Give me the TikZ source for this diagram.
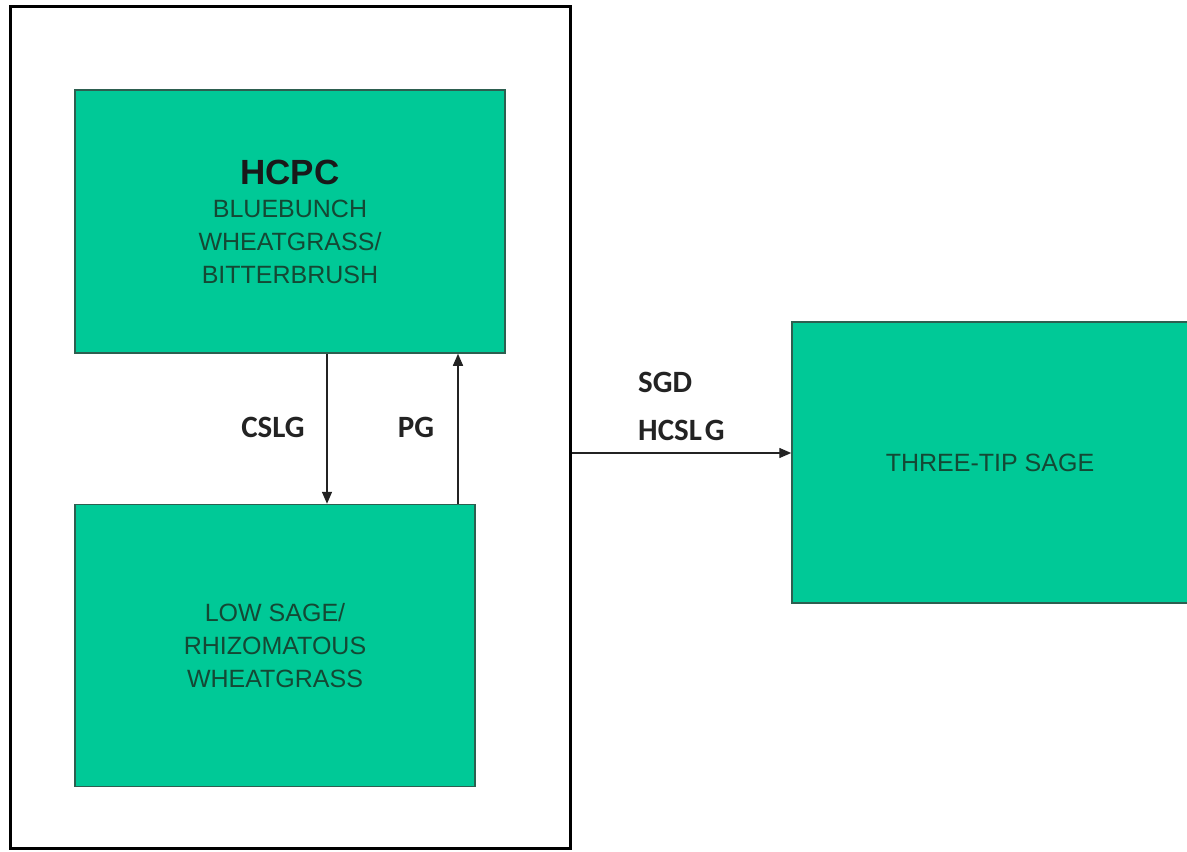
\documentclass[tikz,border=0pt]{standalone}
\usepackage{fontspec}
\setmainfont{Liberation Sans}
\newfontfamily\labelfont{Carlito}
\usepackage{tikz}
\usetikzlibrary{arrows.meta, positioning}
\definecolor{mygreen}{RGB}{0,201,151}
\definecolor{myedge}{RGB}{45,95,80}
\definecolor{mytext}{RGB}{20,72,52}
\definecolor{mydark}{RGB}{35,35,35}
\tikzset{
  statebox/.style={rectangle, draw=myedge, fill=mygreen, line width=1.5pt,
    align=center, text=mytext, font=\fontsize{25}{33}\selectfont, inner sep=0pt},
  outerbox/.style={rectangle, draw=black, line width=3pt, inner sep=0pt},
  arrow/.style={-{Triangle[length=12pt,width=10pt]}, line width=1.4pt, color=mydark},
  lbl/.style={font=\labelfont\bfseries\fontsize{31}{31}\selectfont, text=mydark, inner sep=0pt}
}

\begin{document}
\begin{tikzpicture}[x=1pt, y=-1pt]
  \fill[white] (0,0) rectangle (1187,852);
  \useasboundingbox (0,0) rectangle (1187,852);
  % Community
  \node[outerbox, minimum width=560pt, minimum height=842pt] (comm) at (290,427) {};
  % States
  \node[statebox, minimum width=430pt, minimum height=263pt] (hcpc) at (290,221.5)
    {{\color{black!90}\bfseries\fontsize{35}{35}\selectfont HCPC}\\BLUEBUNCH\\WHEATGRASS/\\BITTERBRUSH};
  \node[statebox, minimum width=400pt, minimum height=282pt,
    below right=150pt and 0pt of hcpc.south west] (lowsage) {LOW SAGE/\\RHIZOMATOUS\\WHEATGRASS};
  \node[statebox, minimum width=430pt, minimum height=281pt] (tts) at (1007,462.5)
    {THREE-TIP SAGE\hspace*{34pt}};
  % Transitions
  \coordinate (cdown) at ([xshift=37pt]hcpc.south);
  \coordinate (cup) at ([xshift=183pt]lowsage.north);
  \coordinate (cright) at ([yshift=9.5pt]tts.west);
  \draw[arrow] (cdown) -- (cdown |- lowsage.north);
  \draw[arrow] (cup) -- (cup |- hcpc.south);
  \draw[arrow] (comm.east |- cright) -- (cright);
  % Labels
  \node[lbl, anchor=base] (cslg) at (273,437) {CSLG};
  \node[lbl, anchor=base] (pg) at (416,437) {PG};
  \node[lbl, anchor=base west] (sgd) at (638,392) {SGD};
  \node[lbl, anchor=base west] (hcslg) at (638,440) {HCSL\hspace{3pt}G};
\end{tikzpicture}
\end{document}
